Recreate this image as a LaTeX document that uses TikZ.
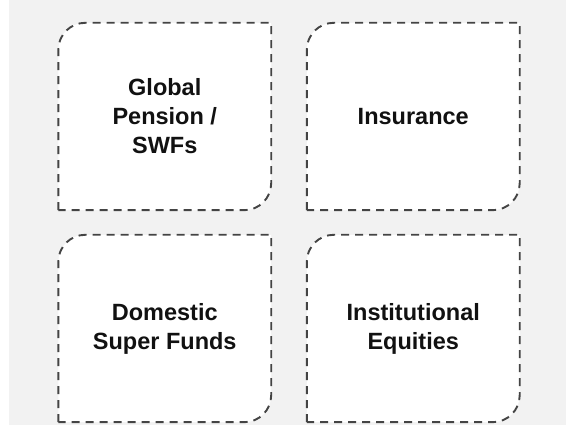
\documentclass[tikz,border=0pt]{standalone}
\usepackage{fontspec}
\setmainfont{Liberation Sans}
\definecolor{bggray}{HTML}{F2F2F2}
\definecolor{bordergray}{HTML}{444444}
\definecolor{txt}{HTML}{111111}
\tikzset{
  cell/.style={rectangle, minimum width=212.5pt, minimum height=187pt, inner sep=0pt,
    align=center, text=txt, font=\fontsize{23.5pt}{29pt}\selectfont\bfseries},
  cellborder/.style={draw=bordergray, fill=white, line width=1.9pt, dash pattern=on 8pt off 6pt}
}
\newcommand\cellframe[1]{%
  \draw[cellborder] (#1.south west) -- ([yshift=-27pt]#1.north west)
    arc[start angle=180, end angle=90, radius=27pt] -- (#1.north east)
    -- ([yshift=27pt]#1.south east)
    arc[start angle=0, end angle=-90, radius=27pt] -- cycle;}
\begin{document}
\begin{tikzpicture}[x=1pt,y=1pt]
\useasboundingbox (0,0) rectangle (566,425);
\fill[bggray] (9,0) rectangle (566,425);
\path (164.75,308.5) node[cell] (b1) {};
\path (413.25,308.5) node[cell] (b2) {};
\path (164.75,96.5) node[cell] (b3) {};
\path (413.25,96.5) node[cell] (b4) {};
\cellframe{b1}\cellframe{b2}\cellframe{b3}\cellframe{b4}
\node[cell] at (b1) {Global\\Pension /\\SWFs};
\node[cell] at (b2) {Insurance};
\node[cell] at (b3) {Domestic\\Super Funds};
\node[cell] at (b4) {Institutional\\Equities};
\end{tikzpicture}
\end{document}
